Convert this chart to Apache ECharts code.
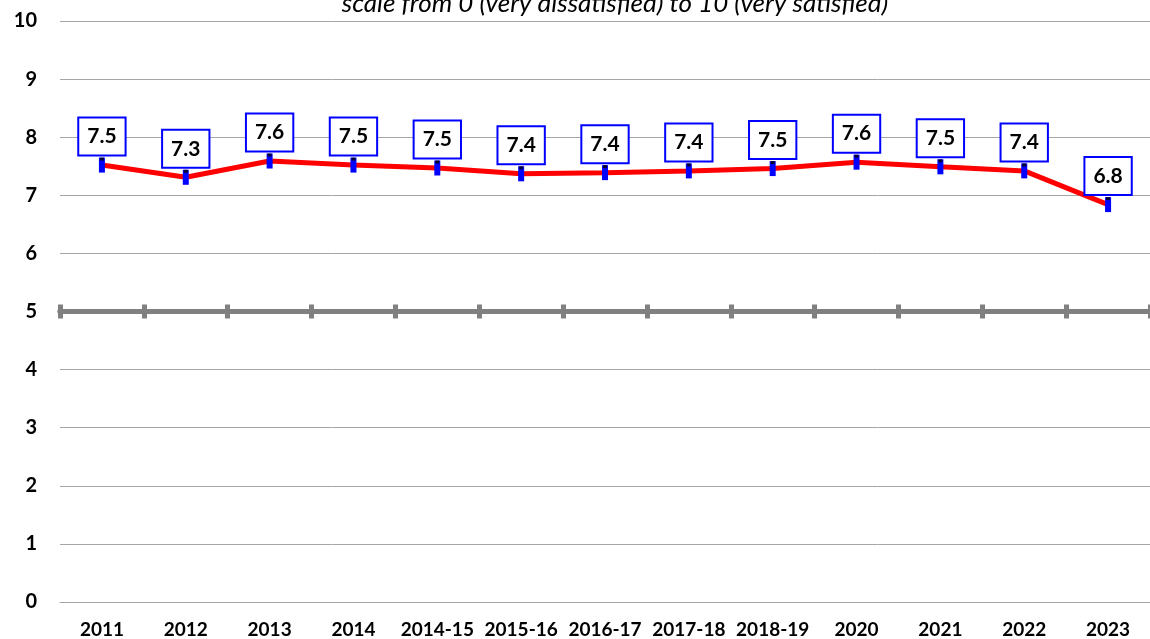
<!DOCTYPE html>
<html>
<head>
<meta charset="utf-8">
<script src="https://cdn.jsdelivr.net/npm/echarts@6/dist/echarts.min.js"></script>
<style>
  html, body { margin: 0; padding: 0; background: #ffffff; }
  #chart { width: 1150px; height: 639px; }
</style>
</head>
<body>
<div id="chart"></div>
<script>
// Survey periods along the horizontal axis
const years = ['2011', '2012', '2013', '2014', '2014-15', '2015-16', '2016-17',
               '2017-18', '2018-19', '2020', '2021', '2022', '2023'];
// Mean satisfaction score per period
const satisfaction = [7.52, 7.31, 7.59, 7.52, 7.47, 7.37, 7.39, 7.42, 7.46, 7.57, 7.49, 7.42, 6.84];
// Score scale and its neutral midpoint
const scaleMin = 0;
const scaleMax = 10;
const scaleStep = 1;
const midpoint = 5;
const subtitle = 'scale from 0 (very dissatisfied) to 10 (very satisfied)';

const FONT = 'Lato, "Open Sans", "DejaVu Sans", sans-serif';
const chart = echarts.init(document.getElementById('chart'), null, { renderer: 'canvas' });

// Shared settings for the two axes that draw the midpoint line and its ticks
function midAxis(inside) {
  return {
    type: 'category',
    data: years,
    position: 'bottom',
    boundaryGap: true,
    axisLine: {
      show: true,
      onZero: true,
      onZeroAxisIndex: 1,
      lineStyle: { color: '#808080', width: 5 }
    },
    axisTick: {
      show: true,
      inside: inside,
      length: 7,
      lineStyle: { color: '#808080', width: 5 }
    },
    axisLabel: { show: false },
    splitLine: { show: false }
  };
}

chart.setOption({
  animation: false,
  backgroundColor: '#ffffff',
  grid: { left: 60, top: 21, width: 1096, height: 581, containLabel: false },
  graphic: [{
    type: 'text',
    x: 615,
    y: 17,
    style: {
      text: subtitle,
      fill: '#000000',
      font: 'italic 26px ' + FONT,
      align: 'center',
      verticalAlign: 'bottom'
    }
  }],
  xAxis: [
    {
      type: 'category',
      data: years,
      boundaryGap: true,
      axisLine: { show: true, onZero: false, lineStyle: { color: '#a6a6a6', width: 1 } },
      axisTick: { show: false },
      axisLabel: {
        interval: 0,
        color: '#000000',
        fontFamily: FONT,
        fontWeight: 'bold',
        fontSize: 19,
        margin: 18
      },
      splitLine: { show: false }
    },
    midAxis(false),
    midAxis(true)
  ],
  yAxis: [
    {
      type: 'value',
      min: scaleMin,
      max: scaleMax,
      interval: scaleStep,
      axisLine: { show: false },
      axisTick: { show: false },
      axisLabel: {
        color: '#000000',
        fontFamily: FONT,
        fontWeight: 'bold',
        fontSize: 20,
        margin: 23
      },
      splitLine: { show: true, lineStyle: { color: '#a6a6a6', width: 1 } }
    },
    {
      // Helper scale whose zero sits on the midpoint of the score scale
      type: 'value',
      min: scaleMin - midpoint,
      max: scaleMax - midpoint,
      show: false
    }
  ],
  series: [
    {
      type: 'line',
      xAxisIndex: 0,
      yAxisIndex: 0,
      data: satisfaction,
      symbol: 'rect',
      symbolSize: [6, 15],
      showSymbol: true,
      showAllSymbol: true,
      itemStyle: { color: '#0000ff' },
      lineStyle: { color: '#ff0000', width: 5 },
      z: 3,
      label: {
        show: true,
        position: 'top',
        distance: 3,
        formatter: (p) => p.value.toFixed(1),
        color: '#000000',
        fontFamily: FONT,
        fontWeight: 'bold',
        fontSize: 21,
        lineHeight: 24,
        backgroundColor: '#ffffff',
        borderColor: '#0000ff',
        borderWidth: 2,
        padding: [6, 8, 6, 8]
      }
    },
    {
      // Small dark cap on top of each marker
      type: 'scatter',
      xAxisIndex: 0,
      yAxisIndex: 0,
      data: satisfaction,
      symbol: 'rect',
      symbolSize: [4, 3],
      symbolOffset: [0, -6],
      itemStyle: { color: '#000000' },
      silent: true,
      z: 4
    }
  ]
});
</script>
</body>
</html>
